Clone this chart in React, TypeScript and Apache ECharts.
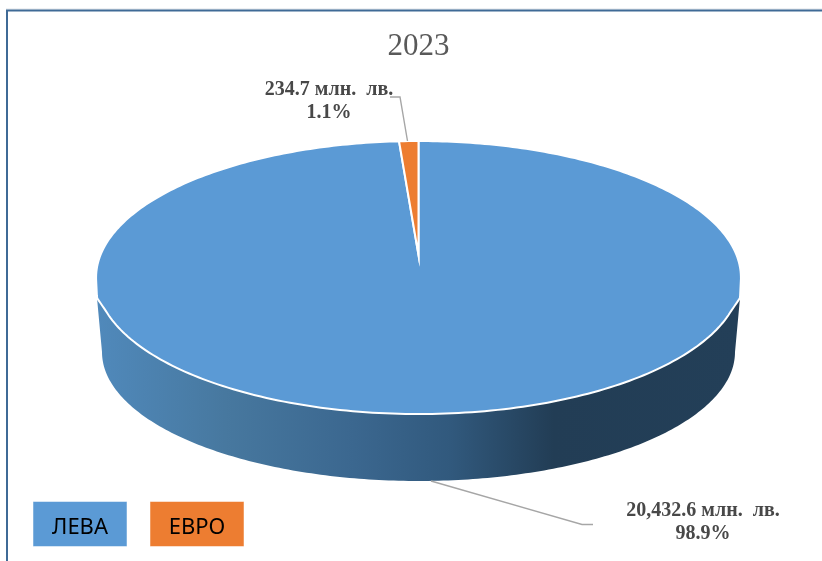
import React, { useEffect, useRef } from "react";
import * as echarts from "echarts";

const titleText = "2023";
const categories = ["ЛЕВА", "ЕВРО"];
const values = [20432.6, 234.7];
const colors = ["#5b9ad5", "#ed7d31"];
const unit = "млн.  лв.";

const total = values.reduce((a, b) => a + b, 0);
const fmt = (v: number) => v.toLocaleString("en-US", { minimumFractionDigits: 1, maximumFractionDigits: 1 });
const labelFor = (i: number) => `${fmt(values[i])} ${unit}\n${((values[i] / total) * 100).toFixed(1)}%`;

// Perspective projection of the pie's top face
const CX = 418.5;
const APEX_Y = 255;
const RX = 318;
const RY = 132.8;
const K = 0.165;
const project = (theta: number): [number, number] => {
  const u = Math.sin(theta);
  const v = Math.cos(theta);
  const d = 1 + K * v;
  let x = (RX * u) / d;
  const y = APEX_Y - (RY * v) / d;
  // small flare of the face at the rim's corners
  const sign = x < 0 ? -1 : 1;
  if (y > 277.5 && y <= 298) {
    x = sign * Math.max(Math.abs(x), 322.5 - ((y - 277.5) / 20.5) * 1);
  } else if (y > 298 && y < 311) {
    x = sign * Math.max(Math.abs(x), 321.5 - ((y - 298) / 13) * 8.9);
  }
  return [CX + x, y];
};

const renderWall = (_p: any, api: any) => {
  const start = (api.value(1) / total) * Math.PI * 2;
  const end = (api.value(2) / total) * Math.PI * 2;
  if (!(start <= Math.PI && end >= Math.PI)) return { type: "group", children: [] };
  const pts: number[][] = [[97, 298]];
  for (let i = 0; i <= 200; i++) {
    const a = Math.PI - (Math.PI * i) / 200;
    pts.push([CX + 316.5 * Math.cos(a), 352 + 129 * Math.sin(a)]);
  }
  pts.push([740, 298], [CX, 270]);
  return {
    type: "polygon",
    shape: { points: pts },
    style: {
      fill: new echarts.graphic.LinearGradient(0, 0, 1, 0, [
        { offset: 0, color: "#5089bb" },
        { offset: 0.2, color: "#47789f" },
        { offset: 0.4, color: "#3b678f" },
        { offset: 0.55, color: "#31597d" },
        { offset: 0.71, color: "#223d55" },
        { offset: 1, color: "#233f58" },
      ]),
      stroke: null,
    },
  };
};

const renderSlice = (p: any, api: any) => {
  const start = (api.value(1) / total) * Math.PI * 2;
  const end = (api.value(2) / total) * Math.PI * 2;
  const steps = Math.max(4, Math.round(((end - start) / (Math.PI * 2)) * 360));
  const pts: number[][] = [[CX, APEX_Y]];
  for (let i = 0; i <= steps; i++) pts.push(project(start + ((end - start) * i) / steps));
  return {
    type: "polygon",
    shape: { points: pts },
    style: { fill: colors[p.dataIndex], stroke: "#ffffff", lineWidth: 2, lineJoin: "miter", miterLimit: 20 },
  };
};

const sliceData = values.map((v, i) => {
  const before = values.slice(0, i).reduce((a, b) => a + b, 0);
  return { name: categories[i], value: [v, before, before + v] };
});

const serif = "'Liberation Serif', serif";
const labelStyle = {
  font: `bold 20px ${serif}`,
  fill: "#484848",
  textAlign: "center",
  textVerticalAlign: "middle",
  lineHeight: 23,
};
const leader = { stroke: "#a6a6a6", lineWidth: 1.4 };

export default function App() {
  const ref = useRef<HTMLDivElement>(null);
  useEffect(() => {
    const chart = echarts.init(ref.current!, undefined, { renderer: "svg" });
    const legendItem = (i: number, x: number) => [
      {
        type: "rect",
        shape: { x, y: 501.5, width: 94, height: 45 },
        style: { fill: colors[i], stroke: "#ffffff", lineWidth: 0.5, opacity: 1 },
      },
      {
        type: "text",
        x: x + 47,
        y: 525,
        style: {
          text: categories[i],
          font: "22px 'Noto Sans', sans-serif",
          fill: "#000000",
          textAlign: "center",
          textVerticalAlign: "middle",
        },
      },
    ];
    chart.setOption({
      animation: false,
      backgroundColor: "#ffffff",
      title: {
        text: titleText,
        left: 413.5,
        top: 24,
        textAlign: "center",
        textStyle: { fontFamily: "Liberation Serif", fontWeight: "normal", fontSize: 31, color: "#595959" },
      },
      series: [
        { type: "custom", coordinateSystem: "none", silent: true, renderItem: renderWall, data: sliceData, z: 1 },
        { type: "custom", coordinateSystem: "none", silent: true, renderItem: renderSlice, data: sliceData, z: 2 },
      ],
      graphic: [
        { type: "line", shape: { x1: 6, y1: 9, x2: 822, y2: 9 }, style: { stroke: "#dfe3e8", lineWidth: 1 }, z: 0 },
        { type: "polyline", shape: { points: [[7, 561], [7, 10.5], [822, 10.5]] }, style: { stroke: "#3f6a96", lineWidth: 2, fill: null }, z: 0 },
        { type: "polyline", shape: { points: [[390, 97], [400, 97], [407.5, 141]] }, style: { ...leader, fill: null }, z: 3 },
        { type: "polyline", shape: { points: [[431, 481], [582, 524.5], [593, 524.5]] }, style: { ...leader, fill: null }, z: 3 },
        { type: "text", x: 329, y: 99, style: { ...labelStyle, text: labelFor(1) } },
        { type: "text", x: 703, y: 520, style: { ...labelStyle, text: labelFor(0) } },
        ...legendItem(0, 33),
        ...legendItem(1, 150),
      ],
    });
    return () => chart.dispose();
  }, []);
  return <div ref={ref} style={{ position: "fixed", left: 0, top: 0, width: 822, height: 561, filter: "blur(0.4px)" }} />;
}
